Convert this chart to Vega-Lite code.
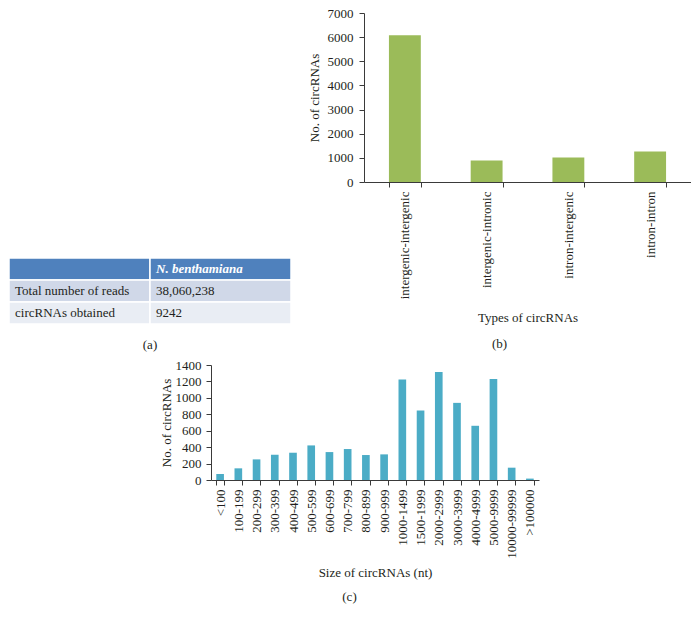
{
  "$schema": "https://vega.github.io/schema/vega-lite/v6.json",
  "padding": {"left": 8, "top": 7, "right": 0, "bottom": 0},
  "background": "white",
  "config": {
    "view": {"stroke": null},
    "font": "Liberation Serif",
    "axis": {
      "labelFont": "Liberation Serif",
      "titleFont": "Liberation Serif",
      "labelFontSize": 13,
      "titleFontSize": 13,
      "titleFontWeight": "normal",
      "labelColor": "#231f20",
      "titleColor": "#231f20",
      "domainColor": "#3a3a3a",
      "tickColor": "#3a3a3a",
      "grid": false,
      "tickSize": 5
    },
    "title": {
      "font": "Liberation Serif",
      "fontSize": 13,
      "fontWeight": "normal",
      "color": "#231f20",
      "orient": "bottom",
      "frame": "bounds",
      "anchor": "middle"
    }
  },
  "spacing": 7,
  "vconcat": [
    {
      "spacing": 16,
      "hconcat": [
        {
          "width": 282,
          "height": 311,
          "title": {"text": "(a)", "offset": 14},
          "data": {
            "values": [
              {"row": "h", "column": "c1", "text": ""},
              {"row": "h", "column": "c2", "text": "N. benthamiana"},
              {"row": "r1", "column": "c1", "text": "Total number of reads"},
              {"row": "r1", "column": "c2", "text": "38,060,238"},
              {"row": "r2", "column": "c1", "text": "circRNAs obtained"},
              {"row": "r2", "column": "c2", "text": "9242"}
            ]
          },
          "encoding": {
            "x": {"field": "column", "type": "nominal", "axis": null,
                  "scale": {"domain": ["c1", "c2"], "paddingInner": 0, "paddingOuter": 0}},
            "y": {"field": "row", "type": "nominal", "axis": null,
                  "scale": {"domain": ["h", "r1", "r2"], "paddingInner": 0, "paddingOuter": 0, "range": [245, 311]}}
          },
          "layer": [
            {
              "mark": {"type": "rect", "stroke": "white", "strokeWidth": 1.5},
              "encoding": {
                "color": {"field": "row", "type": "nominal", "legend": null,
                          "scale": {"domain": ["h", "r1", "r2"], "range": ["#4f81bd", "#d0d8e8", "#e9edf4"]}}
              }
            },
            {
              "transform": [{"filter": "datum.row !== 'h'"}],
              "mark": {"type": "text", "align": "left", "baseline": "middle", "dx": 6, "fontSize": 13, "color": "#231f20", "font": "Liberation Serif"},
              "encoding": {
                "x": {"field": "column", "type": "nominal", "bandPosition": 0},
                "text": {"field": "text"}
              }
            },
            {
              "transform": [{"filter": "datum.row === 'h' && datum.text !== ''"}],
              "mark": {"type": "text", "align": "left", "baseline": "middle", "dx": 6, "fontSize": 13, "color": "white", "fontWeight": "bold", "fontStyle": "italic", "font": "Liberation Serif"},
              "encoding": {
                "x": {"field": "column", "type": "nominal", "bandPosition": 0},
                "text": {"field": "text"}
              }
            }
          ]
        },
        {
          "width": 327,
          "height": 169,
          "title": {"text": "(b)", "offset": 13},
          "data": {
            "values": [
              {"type": "intergenic-intergenic", "count": 6080},
              {"type": "intergenic-intronic", "count": 890},
              {"type": "intron-intergenic", "count": 1010},
              {"type": "intron-intron", "count": 1262}
            ]
          },
          "mark": {"type": "bar", "color": "#9bbb59"},
          "encoding": {
            "x": {"field": "type", "type": "nominal", "sort": null, "title": "Types of circRNAs",
                  "scale": {"paddingInner": 0.61, "paddingOuter": 0.305},
                  "axis": {"labelAngle": -90, "tickBand": "extent", "labelPadding": 4, "titlePadding": 13}},
            "y": {"field": "count", "type": "quantitative", "title": "No. of circRNAs",
                  "scale": {"domain": [0, 7000]},
                  "axis": {"values": [0, 1000, 2000, 3000, 4000, 5000, 6000, 7000], "format": "d", "labelPadding": 6, "titlePadding": 6}}
          }
        }
      ]
    },
    {
      "spacing": 0,
      "hconcat": [
        {
          "width": 151,
          "height": 1,
          "data": {"values": []},
          "mark": {"type": "rect"},
          "encoding": {}
        },
        {
          "width": 328,
          "height": 115,
          "title": {"text": "(c)", "offset": 12},
          "data": {
            "values": [
              {"size": "<100", "count": 73},
              {"size": "100-199", "count": 142},
              {"size": "200-299", "count": 251},
              {"size": "300-399", "count": 308},
              {"size": "400-499", "count": 332},
              {"size": "500-599", "count": 421},
              {"size": "600-699", "count": 340},
              {"size": "700-799", "count": 377},
              {"size": "800-899", "count": 304},
              {"size": "900-999", "count": 312},
              {"size": "1000-1499", "count": 1223},
              {"size": "1500-1999", "count": 846},
              {"size": "2000-2999", "count": 1316},
              {"size": "3000-3999", "count": 939},
              {"size": "4000-4999", "count": 660},
              {"size": "5000-9999", "count": 1231},
              {"size": "10000-99999", "count": 150},
              {"size": ">100000", "count": 17}
            ]
          },
          "mark": {"type": "bar", "color": "#4bacc6"},
          "encoding": {
            "x": {"field": "size", "type": "nominal", "sort": null, "title": "Size of circRNAs (nt)",
                  "scale": {"paddingInner": 0.58, "paddingOuter": 0.29},
                  "axis": {"labelAngle": -90, "tickBand": "extent", "labelPadding": 4, "titlePadding": 8}},
            "y": {"field": "count", "type": "quantitative", "title": "No. of circRNAs",
                  "scale": {"domain": [0, 1400]},
                  "axis": {"values": [0, 200, 400, 600, 800, 1000, 1200, 1400], "format": "d", "labelPadding": 5, "titlePadding": 2}}
          }
        }
      ]
    }
  ]
}
